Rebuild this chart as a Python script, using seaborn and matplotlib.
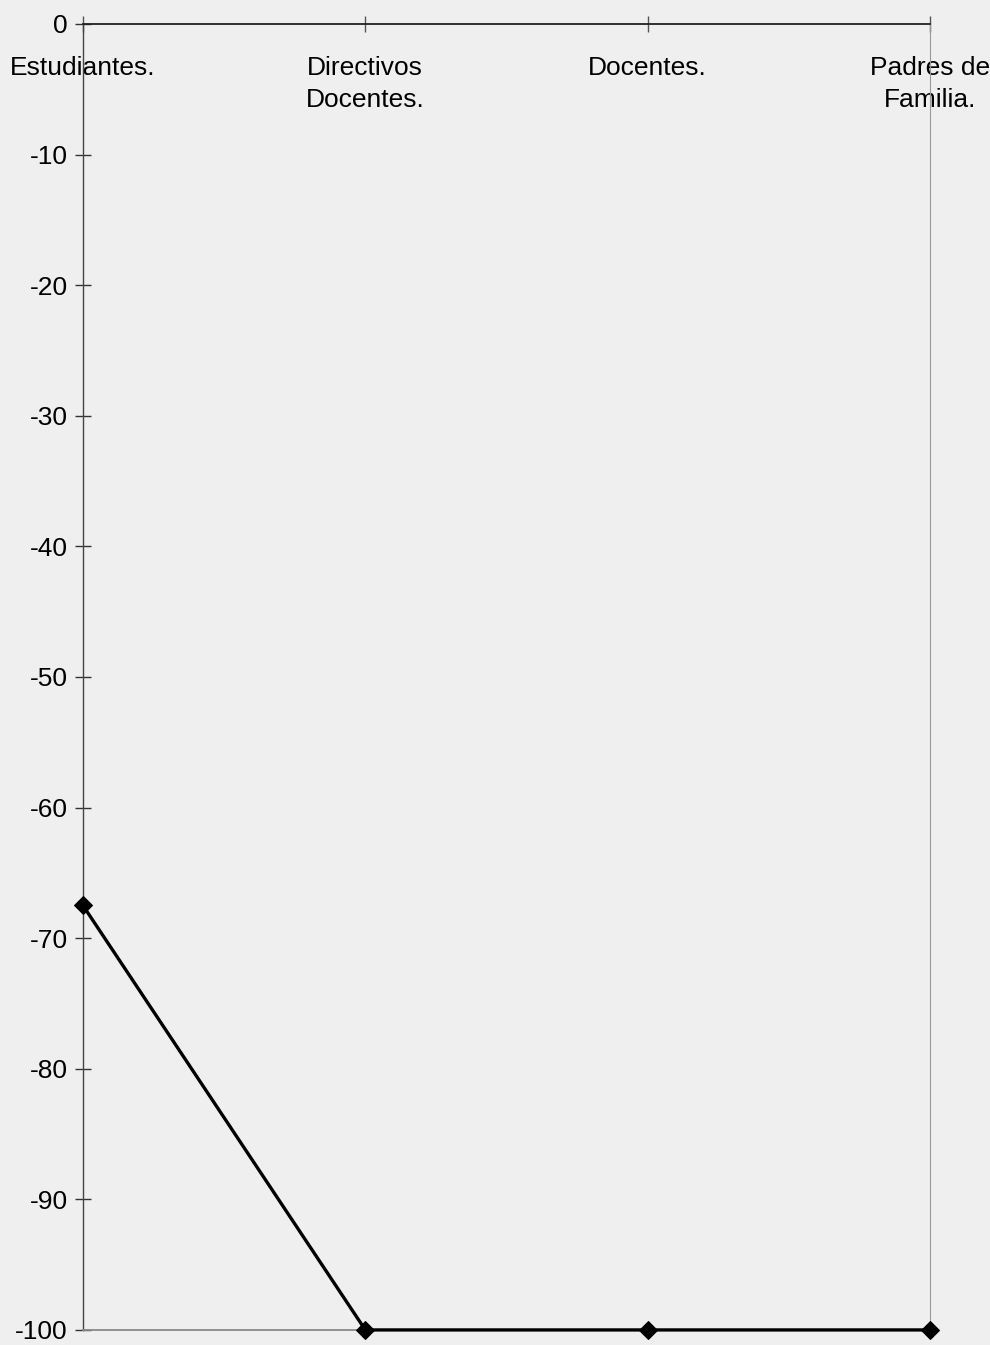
import matplotlib
matplotlib.use("Agg")
import matplotlib.pyplot as plt
import seaborn as sns
import pandas as pd

# datos
grupos = ["Estudiantes.", "Directivos\nDocentes.", "Docentes.", "Padres de\nFamilia."]
valores = [-67.5, -100, -100, -100]
yticks = list(range(0, -101, -10))

sns.set_theme(style="white")
plt.rcParams["font.family"] = ["Liberation Sans", "DejaVu Sans"]

fondo = "#efefef"
df = pd.DataFrame({"grupo": grupos, "valor": valores})

fig = plt.figure(figsize=(9.9, 13.45), dpi=100, facecolor=fondo)
ax = fig.add_axes([0.0838, 0.0112, 0.8556, 0.9710])
ax.set_facecolor(fondo)

sns.lineplot(data=df, x="grupo", y="valor", sort=False, color="black",
             linewidth=2.4, marker="D", markersize=9, markeredgecolor="black",
             clip_on=False, zorder=5, ax=ax)

ax.set_ylim(-100, 0)
ax.set_xlim(-0.0, 3.0)
ax.set_yticks(yticks)
ax.set_yticklabels([str(t) for t in yticks], fontsize=19, color="black")
ax.set_xlabel("")
ax.set_ylabel("")

# eje de categorias en la linea del cero
ax.spines["bottom"].set_position(("data", 0))
ax.spines["bottom"].set_color("#222222")
ax.spines["bottom"].set_linewidth(1.3)
ax.spines["top"].set_position(("data", -100))
ax.spines["top"].set_color("#888888")
ax.spines["top"].set_linestyle((0, (2, 1)))
ax.spines["top"].set_linewidth(1.3)
ax.spines["left"].set_color("#444444")
ax.spines["left"].set_linestyle((0, (2, 1)))
ax.spines["left"].set_linewidth(1.0)
ax.spines["right"].set_color("#999999")
ax.spines["right"].set_linestyle((0, (2, 1)))
ax.spines["right"].set_linewidth(0.8)

ax.tick_params(axis="y", direction="inout", length=12, width=1, color="#333333", pad=5,
               left=True)
ax.tick_params(axis="x", direction="inout", length=12, width=1, color="#555555", pad=17,
               bottom=True, labelsize=19, labelcolor="black")
for lab in ax.get_xticklabels():
    lab.set_linespacing(1.45)

fig.savefig("out.png", dpi=100, facecolor=fondo)
